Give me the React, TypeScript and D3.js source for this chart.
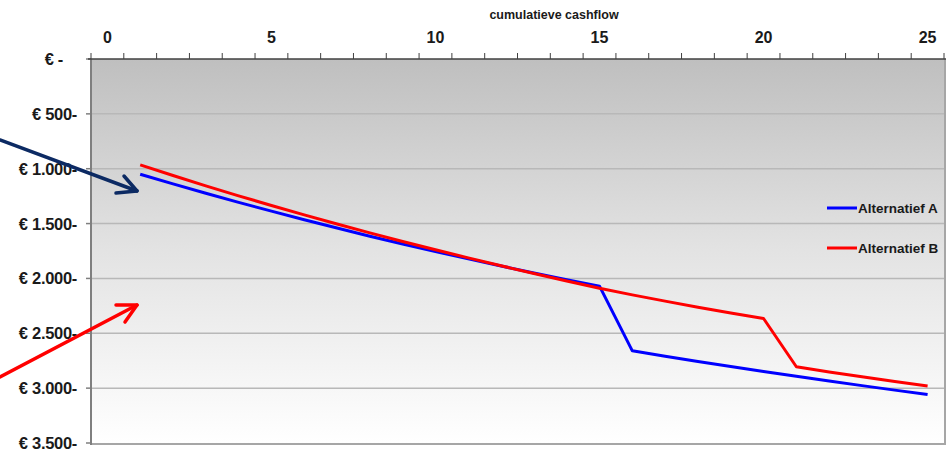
import React from "react";
import * as d3 from "d3";

// Category axis: years 0..25
const categories = [0, 1, 2, 3, 4, 5, 6, 7, 8, 9, 10, 11, 12, 13, 14, 15, 16, 17, 18, 19, 20, 21, 22, 23, 24, 25];
const xTickLabels = [0, 5, 10, 15, 20, 25];
const yTicks = [0, -500, -1000, -1500, -2000, -2500, -3000, -3500];

// Cumulative cash flow (euro) per year, years 1..25
const years = [1, 2, 3, 4, 5, 6, 7, 8, 9, 10, 11, 12, 13, 14, 15, 16, 17, 18, 19, 20, 21, 22, 23, 24, 25];
const alternatiefA = [
  -1050, -1138, -1224, -1307, -1387, -1465, -1541, -1615, -1686, -1755, -1822, -1887, -1950, -2011, -2070,
  -2660, -2710, -2757, -2803, -2848, -2892, -2935, -2977, -3018, -3058,
];
const alternatiefB = [
  -965, -1062, -1156, -1247, -1335, -1421, -1504, -1585, -1663, -1739, -1813, -1885, -1955, -2023, -2089,
  -2150, -2207, -2262, -2315, -2365, -2805, -2852, -2897, -2940, -2981,
];
const seriesNames = ["Alternatief A", "Alternatief B"];
const seriesColors = ["#0000ff", "#ff0000"];

const W = 947;
const H = 452;
const plot = { left: 91, right: 944, top: 59, bottom: 443 };

const nl = d3.formatLocale({ decimal: ",", thousands: ".", grouping: [3], currency: ["€ ", ""] });
const fmt = nl.format(",.0f");
const yLabel = (v: number) => (v === 0 ? "€ -" : `€ ${fmt(Math.abs(v))}-`);

export default function App() {
  const x = d3.scaleBand<number>().domain(categories).range([plot.left, plot.right]).paddingInner(0).paddingOuter(0);
  const y = d3.scaleLinear().domain([0, -3500]).range([plot.top, plot.bottom]);
  const cx = (c: number) => (x(c) as number) + x.bandwidth() / 2;

  const line = d3
    .line<number>()
    .x((_, i) => cx(years[i]))
    .y((d) => y(d));

  const series = [alternatiefA, alternatiefB];
  const font = "'Liberation Sans', Arial, sans-serif";

  // boundaries between categories for the top axis ticks
  const boundaries = categories.map((c) => x(c) as number).concat([plot.right]);

  return (
    <svg
      width={W}
      height={H}
      style={{ position: "absolute", left: 0, top: 0, background: "#ffffff" }}
      fontFamily={font}
    >
      <defs>
        <linearGradient id="plotBg" x1="0" y1="0" x2="0" y2="1">
          <stop offset="0" stopColor="#bfbfbf" />
          <stop offset="0.5" stopColor="#e3e3e3" />
          <stop offset="1" stopColor="#ffffff" />
        </linearGradient>
      </defs>

      <rect
        x={plot.left}
        y={plot.top}
        width={plot.right - plot.left}
        height={plot.bottom - plot.top}
        fill="url(#plotBg)"
      />

      {/* horizontal gridlines */}
      {yTicks.slice(1, -1).map((t) => (
        <line key={t} x1={plot.left} x2={plot.right} y1={y(t)} y2={y(t)} stroke="#b8b8b8" strokeWidth={1.5} />
      ))}

      {/* frame right and bottom */}
      <line x1={plot.right + 1} x2={plot.right + 1} y1={plot.top} y2={plot.bottom + 2} stroke="#a6a6a6" strokeWidth={2} />
      <line x1={plot.left} x2={plot.right + 2} y1={plot.bottom + 1} y2={plot.bottom + 1} stroke="#a6a6a6" strokeWidth={2} />

      {/* left value axis */}
      <line x1={plot.left} x2={plot.left} y1={plot.top} y2={plot.bottom + 2} stroke="#7f7f7f" strokeWidth={2} />
      {yTicks.map((t) => (
        <g key={t}>
          <line x1={plot.left - 5} x2={plot.left} y1={y(t)} y2={y(t)} stroke="#7f7f7f" strokeWidth={1.5} />
          <text
            x={t === 0 ? 63 : 77}
            y={y(t)}
            dy="0.36em"
            textAnchor="end"
            fontSize={16.5}
            fontWeight="bold"
            letterSpacing={-0.3}
            fill="#1a1a1a"
          >
            {yLabel(t)}
          </text>
        </g>
      ))}

      {/* top category axis */}
      <line x1={plot.left - 3} x2={plot.right + 2} y1={plot.top} y2={plot.top} stroke="#404040" strokeWidth={1.5} />
      {boundaries.map((b, i) => (
        <line key={i} x1={b} x2={b} y1={plot.top - 6} y2={plot.top} stroke="#404040" strokeWidth={1} />
      ))}
      {xTickLabels.map((c) => (
        <text key={c} x={cx(c)} y={43} textAnchor="middle" fontSize={16} fontWeight="bold" fill="#1a1a1a">
          {c}
        </text>
      ))}

      <text x={554} y={19} textAnchor="middle" fontSize={12.5} fontWeight="bold" fill="#1a1a1a">
        cumulatieve cashflow
      </text>

      {/* series */}
      {series.map((s, i) => (
        <path key={i} d={line(s) as string} fill="none" stroke={seriesColors[i]} strokeWidth={3} strokeLinejoin="round" />
      ))}

      {/* legend */}
      {seriesNames.map((n, i) => (
        <g key={n} transform={`translate(827, ${208 + i * 40})`}>
          <line x1={0} x2={30} y1={0} y2={0} stroke={seriesColors[i]} strokeWidth={3} />
          <text x={31} y={0} dy="0.36em" fontSize={13.5} fontWeight="bold" fill="#1a1a1a">
            {n}
          </text>
        </g>
      ))}

      {/* annotation arrows */}
      <g fill="none" strokeWidth={3.5} strokeLinecap="round" strokeLinejoin="round">
        <path d="M0,140 L137,191" stroke="#0c2a63" />
        <path d="M116,193 L137,191 L124,176" stroke="#0c2a63" />
        <path d="M0,377 L137,305" stroke="#ff0000" />
        <path d="M116,305 L137,305 L125,322" stroke="#ff0000" />
      </g>
    </svg>
  );
}
